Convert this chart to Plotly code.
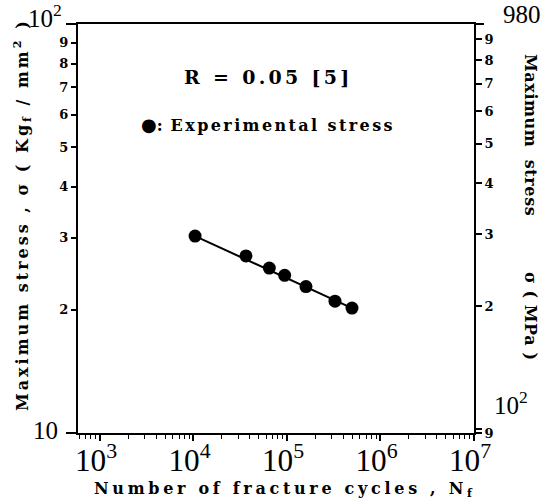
import math
import plotly.graph_objects as go

# ---- data ----
cycles = [10400, 36400, 64700, 94400, 159600, 326000, 495600]
stress_kgf = [30.3, 27.1, 25.3, 24.3, 22.8, 21.0, 20.2]
fit_cycles = [10400, 495600]
fit_stress = [30.3, 20.2]

left_tickvals = [20, 30, 40, 50, 60, 70, 80, 90]
left_ticktext = ["2", "3", "4", "5", "6", "7", "8", "9"]
right_tickvals = [98, 100, 200, 300, 400, 500, 600, 700, 800, 900]
right_ticktext = ["9", "", "2", "3", "4", "5", "6", "7", "8", "9"]
KGF_TO_MPA = 9.8

# ---- geometry helpers (plot area in pixels) ----
W, H = 555, 504
L, R, T, B = 78, 474, 24, 433
def px(x):
    return (x - L) / (R - L)
def py(y):
    return (B - y) / (B - T)

BOLD = "DejaVu Serif"
SERIF = "Liberation Serif"
NB = "\u00a0"

fig = go.Figure()
fig.add_trace(go.Scatter(x=fit_cycles, y=fit_stress, mode="lines",
                         line=dict(color="black", width=2), hoverinfo="skip",
                         showlegend=False))
fig.add_trace(go.Scatter(x=cycles, y=stress_kgf, mode="markers",
                         marker=dict(color="black", size=13), showlegend=False))
fig.add_trace(go.Scatter(x=cycles, y=[s * KGF_TO_MPA for s in stress_kgf],
                         mode="markers", marker=dict(color="rgba(0,0,0,0)"),
                         yaxis="y2", hoverinfo="skip", showlegend=False))

ylo = math.log10(10)
y2lo = math.log10(10 * KGF_TO_MPA)

def boldify(labels):
    return [f"<b>{t}</b>" if t else "" for t in labels]

small = dict(family=BOLD, size=13, color="black")
fig.update_layout(
    width=W, height=H,
    margin=dict(l=L, r=W - R, t=T, b=H - B, pad=0),
    paper_bgcolor="white", plot_bgcolor="white",
    showlegend=False,
    xaxis=dict(type="log", range=[2.765, 7], dtick=1, exponentformat="power",
               showline=True, linecolor="black", linewidth=2, mirror=True,
               ticks="outside", ticklen=6, tickwidth=1.5, tickcolor="black",
               showgrid=False, zeroline=False, ticklabelstandoff=-6,
               ticklabelshift=-4,
               tickfont=dict(family=SERIF, size=25, color="black"),
               minor=dict(ticks="outside", ticklen=4, tickwidth=1,
                          tickcolor="black", showgrid=False)),
    yaxis=dict(type="log", range=[ylo, ylo + 1], showline=True,
               linecolor="black", linewidth=2, ticks="outside", ticklen=5,
               tickwidth=1.5, tickcolor="black", showgrid=False,
               zeroline=False, tickvals=left_tickvals,
               ticktext=boldify(left_ticktext), tickfont=small),
    yaxis2=dict(type="log", overlaying="y", side="right", anchor="x",
                range=[y2lo, y2lo + 1], showline=True,
                linecolor="black", linewidth=2, ticks="outside", ticklen=6,
                tickwidth=1.5, tickcolor="black", showgrid=False,
                zeroline=False, tickvals=right_tickvals,
                ticktext=boldify(right_ticktext), tickfont=small),
)

# axis-line extensions beyond the frame corners
for x0, x1, y in [(px(66), 0, 0), (px(66), 0, 1), (1, px(484), 1)]:
    fig.add_shape(type="line", xref="paper", yref="paper", x0=x0, x1=x1,
                  y0=y, y1=y, line=dict(color="black", width=2))

big = dict(family=SERIF, size=25, color="black")
right_title = ("Maximum" + NB * 2 + "stress" + NB * 9 + "σ" + NB
               + "(" + NB + "MPa" + NB + ")")
annos = [
    dict(text="10<sup>2</sup>", x=px(45), y=py(16), font=big),
    dict(text="10", x=px(45), y=py(430), font=big),
    dict(text="980", x=px(522), y=py(14), font=big),
    dict(text="10<sup>2</sup>", x=px(492), y=py(403), font=big, xanchor="left"),
    dict(text="<b><span style='letter-spacing:3.3px'>R = 0.05 [5]</span></b>",
         x=px(268), y=py(77),
         font=dict(family=BOLD, size=19, color="black")),
    dict(text="<span style='font-family:DejaVu Sans;font-size:18px'>●</span><b>:"
              "<span style='letter-spacing:2.4px'> Experimental stress</span></b>",
         x=px(139), y=py(125), xanchor="left",
         font=dict(family=BOLD, size=16, color="black")),
    dict(text="<b><span style='letter-spacing:3.7px'>Number of fracture cycles , N<sub>f</sub></span></b>",
         x=px(285), y=py(489),
         font=dict(family=BOLD, size=16, color="black")),
    dict(text="<b><span style='letter-spacing:3px'>Maximum stress , σ ( Kg<sub>f</sub> / mm<sup>2</sup> )</span></b>",
         x=px(22), y=py(215), textangle=-90,
         font=dict(family=BOLD, size=16, color="black")),
    dict(text="<b><span style='letter-spacing:0.6px'>" + right_title + "</span></b>",
         x=px(531), y=py(207), textangle=90,
         font=dict(family=BOLD, size=16, color="black")),
]
for a in annos:
    base = dict(xref="paper", yref="paper", showarrow=False,
                xanchor="center", yanchor="middle")
    base.update(a)
    fig.add_annotation(**base)

fig.write_html("out.html")
